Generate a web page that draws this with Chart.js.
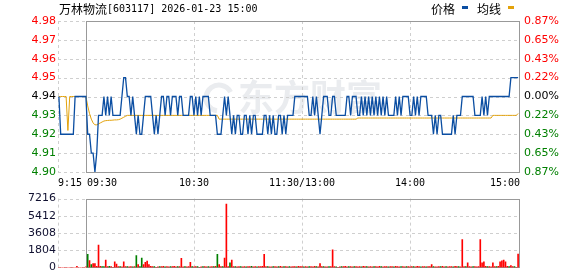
<!DOCTYPE html>
<html>
<head>
<meta charset="utf-8">
<script src="https://cdn.jsdelivr.net/npm/chart.js@4.4.0/dist/chart.umd.min.js"></script>
<style>
  html, body { margin: 0; padding: 0; background: #fff; width: 578px; height: 276px; overflow: hidden; }
  canvas { position: absolute; left: 0; }
  #price { top: 0; }
  #vol { top: 190px; }
</style>
</head>
<body>
<canvas id="price" width="578" height="190"></canvas>
<canvas id="vol" width="578" height="86"></canvas>
<script>
const stockName = '万林物流';
const titleRest = '[603117] 2026-01-23 15:00';
const seriesNames = ['价格', '均线'];
const preClose = 4.94;

const timeLabels = ['9:15', '09:30', '10:30', '11:30/13:00', '14:00', '15:00'];
const timeTickIdx = [-15, 0, 60, 120, 180, 240];
const priceTicks = [4.90, 4.91, 4.92, 4.93, 4.94, 4.95, 4.96, 4.97, 4.98];
const pctLabels = ['0.87%', '0.65%', '0.43%', '0.22%', '0.00%', '0.22%', '0.43%', '0.65%', '0.87%'];
const volTicks = [0, 1804, 3608, 5412, 7216];

// 9:15 - 9:29 call auction
const auctionPrice = [4.94, 4.92, 4.92, 4.92, 4.92, 4.92, 4.92, 4.92, 4.92, 4.94, 4.94, 4.94, 4.94, 4.94, 4.94];
const auctionAvg = [4.94, 4.94, 4.94, 4.94, 4.94, 4.922, 4.94, 4.94, 4.94, 4.94, 4.94, 4.94, 4.94, 4.94, 4.94];
const auctionVol = [0, 0, 0, 0, 0, 0, 0, 0, 0, 0, 100, 0, 0, 0, 0];

// 9:30 - 15:00, one value per minute (11:30 and 13:00 share a slot)
const price = [
  4.94,4.92,4.92,4.91,4.91,4.90,4.91,4.93,4.93,4.93,
  4.94,4.93,4.94,4.93,4.94,4.93,4.93,4.93,4.93,4.93,
  4.94,4.95,4.95,4.94,4.94,4.93,4.94,4.93,4.92,4.93,
  4.92,4.92,4.93,4.94,4.94,4.94,4.94,4.93,4.92,4.93,
  4.92,4.93,4.94,4.94,4.93,4.94,4.94,4.93,4.94,4.94,
  4.94,4.93,4.94,4.94,4.93,4.93,4.93,4.93,4.94,4.94,
  4.93,4.94,4.93,4.94,4.93,4.94,4.94,4.94,4.94,4.93,
  4.93,4.93,4.93,4.92,4.92,4.92,4.93,4.94,4.93,4.94,
  4.93,4.92,4.93,4.92,4.93,4.93,4.92,4.92,4.93,4.93,
  4.92,4.93,4.92,4.93,4.93,4.92,4.92,4.92,4.92,4.93,
  4.93,4.92,4.93,4.92,4.93,4.92,4.92,4.93,4.93,4.92,
  4.93,4.92,4.93,4.93,4.93,4.93,4.94,4.94,4.94,4.94,
  4.94,4.94,4.94,4.94,4.93,4.93,4.94,4.93,4.94,4.93,
  4.92,4.93,4.94,4.94,4.94,4.93,4.93,4.94,4.94,4.93,
  4.93,4.93,4.93,4.93,4.93,4.94,4.94,4.93,4.94,4.94,
  4.94,4.93,4.93,4.94,4.93,4.94,4.93,4.94,4.93,4.94,
  4.93,4.94,4.93,4.94,4.93,4.94,4.93,4.94,4.93,4.93,
  4.93,4.93,4.94,4.93,4.94,4.93,4.94,4.94,4.94,4.94,
  4.93,4.93,4.94,4.93,4.94,4.93,4.94,4.94,4.94,4.94,
  4.93,4.93,4.93,4.92,4.93,4.92,4.93,4.93,4.92,4.92,
  4.92,4.92,4.92,4.92,4.93,4.92,4.93,4.93,4.93,4.94,
  4.94,4.94,4.94,4.94,4.94,4.94,4.93,4.93,4.93,4.93,
  4.94,4.93,4.94,4.93,4.94,4.94,4.94,4.94,4.94,4.94,
  4.94,4.94,4.94,4.94,4.94,4.94,4.95,4.95,4.95,4.95,
  4.95
];

const avgPrice = [
  4.940,4.935,4.931,4.928,4.926,4.925,4.925,4.9255,4.926,4.9265,
  4.927,4.9272,4.9273,4.9274,4.9274,4.9275,4.9276,4.9276,4.9277,4.928,
  4.9285,4.929,4.9295,4.930,4.930,4.930,4.930,4.930,4.930,4.930,
  4.930,4.930,4.930,4.930,4.930,4.930,4.930,4.930,4.930,4.930,
  4.930,4.930,4.930,4.930,4.930,4.930,4.930,4.930,4.930,4.930,
  4.930,4.930,4.930,4.930,4.930,4.930,4.930,4.930,4.930,4.930,
  4.930,4.930,4.930,4.930,4.930,4.930,4.930,4.930,4.930,4.930,
  4.930,4.930,4.930,4.930,4.928,4.928,4.928,4.928,4.928,4.928,
  4.928,4.928,4.928,4.928,4.928,4.928,4.928,4.928,4.928,4.928,
  4.928,4.928,4.928,4.928,4.928,4.928,4.928,4.928,4.928,4.928,
  4.928,4.928,4.928,4.928,4.928,4.928,4.928,4.928,4.928,4.928,
  4.928,4.928,4.928,4.928,4.928,4.928,4.928,4.928,4.928,4.928,
  4.928,4.928,4.928,4.928,4.928,4.928,4.928,4.928,4.928,4.928,
  4.928,4.928,4.928,4.928,4.928,4.928,4.928,4.928,4.928,4.928,
  4.928,4.928,4.928,4.928,4.928,4.928,4.928,4.928,4.928,4.928,
  4.928,4.9286,4.9286,4.9286,4.9286,4.9286,4.9286,4.9286,4.9286,4.9286,
  4.9286,4.9286,4.9286,4.9286,4.9286,4.9286,4.9286,4.9286,4.9286,4.9286,
  4.9286,4.9286,4.9286,4.9286,4.9286,4.9286,4.9286,4.9286,4.9286,4.9286,
  4.9286,4.9286,4.9286,4.9286,4.9286,4.9286,4.9286,4.9286,4.9286,4.9286,
  4.9286,4.9286,4.9286,4.9286,4.9286,4.9286,4.9286,4.9286,4.9286,4.9286,
  4.9286,4.9286,4.9286,4.9286,4.9286,4.9286,4.9286,4.9286,4.9286,4.9286,
  4.9286,4.9286,4.9286,4.9286,4.9286,4.9286,4.9286,4.9286,4.9286,4.9286,
  4.9286,4.9286,4.9286,4.9286,4.9286,4.9286,4.930,4.930,4.930,4.930,
  4.930,4.930,4.930,4.930,4.930,4.930,4.930,4.930,4.930,4.930,
  4.931
];

const volume = [
  60,1365,715,290,390,390,120,2340,100,90,
  80,780,90,100,80,0,585,360,90,80,
  70,585,80,90,70,80,60,90,1235,290,
  90,975,290,520,650,290,100,80,90,0,
  70,80,90,100,60,80,70,90,80,100,
  60,80,90,940,70,80,60,90,520,80,
  70,90,80,0,60,80,90,70,80,60,
  90,80,100,1365,300,80,90,975,6630,90,
  490,780,80,90,70,80,90,60,80,70,
  90,80,100,70,80,60,90,80,100,1365,
  80,90,70,60,80,90,70,80,100,60,
  80,90,70,80,60,90,80,70,100,80,
  90,60,80,70,90,80,60,100,80,70,
  390,80,90,70,60,80,90,1850,80,60,
  0,70,90,80,100,60,80,90,70,80,
  90,60,80,70,100,80,90,60,80,70,
  80,90,60,100,80,70,90,80,60,90,
  80,70,100,80,60,90,80,70,90,80,
  60,80,90,70,100,80,60,90,80,70,
  80,90,290,80,70,60,90,80,100,70,
  80,60,90,80,70,100,80,90,60,2925,
  80,90,490,80,70,90,80,60,90,2925,
  490,585,100,80,90,70,490,80,90,100,
  585,680,780,585,100,80,200,90,80,0,
  1400
];

// 1 = up minute (red), 0 = down minute (green)
const volUp = [
  1,0,1,0,1,1,1,1,1,0,
  0,1,1,0,1,1,1,1,1,0,
  1,1,1,0,1,1,0,1,0,1,
  0,0,1,1,1,1,1,1,0,1,
  1,0,1,1,0,1,1,0,1,1,
  1,0,1,1,1,0,1,1,1,0,
  1,1,0,1,1,0,1,1,0,1,
  1,0,1,0,1,1,0,1,1,1,
  0,1,1,0,1,1,0,1,1,0,
  1,1,0,1,1,0,1,1,1,1,
  1,0,1,1,0,1,1,0,1,1,
  0,1,1,0,1,1,1,0,1,1,
  1,0,1,1,0,1,1,1,0,1,
  1,1,0,1,1,0,1,1,1,0,
  1,1,0,1,1,1,0,1,1,0,
  1,1,1,0,1,1,0,1,1,1,
  0,1,1,1,0,1,1,1,0,1,
  1,0,1,1,1,0,1,1,0,1,
  1,1,0,1,1,1,0,1,1,0,
  1,1,1,0,1,1,1,0,1,1,
  0,1,1,1,0,1,1,0,1,1,
  1,0,1,1,1,0,1,1,1,1,
  1,1,1,0,1,1,1,1,0,1,
  1,1,1,1,1,0,1,1,0,1,
  1
];

const BLUE = '#0b4ea2';
const GOLD = '#e3a20b';
const RED = '#ff0000';
const GREEN = '#008000';

const toPts = (pre, main) => pre.map((v, i) => ({ x: i - pre.length, y: v }))
  .concat(main.map((v, i) => ({ x: i, y: v })));

const priceColor = v => v > preClose + 1e-6 ? RED : (v < preClose - 1e-6 ? GREEN : '#000');

function framePlugin(vlines, watermark) {
  return {
    id: 'frame',
    beforeDatasetsDraw(chart) {
      const { ctx, chartArea: a, scales: { x, y } } = chart;
      ctx.save();
      if (watermark) {
        ctx.fillStyle = '#eaecef';
        ctx.strokeStyle = '#eaecef';
        ctx.font = 'bold 36px "Noto Sans CJK SC"';
        ctx.textBaseline = 'middle';
        ctx.fillText('东方财富', 238, 97);
        ctx.lineWidth = 5;
        ctx.beginPath();
        ctx.arc(219, 98, 13, 0.55 * Math.PI, 1.85 * Math.PI);
        ctx.stroke();
      }
      ctx.strokeStyle = '#cfcfcf';
      ctx.lineWidth = 1;
      ctx.setLineDash([3, 3]);
      ctx.beginPath();
      y.ticks.forEach(t => {
        const py = Math.round(y.getPixelForValue(t.value)) + 0.5;
        ctx.moveTo(a.left, py);
        ctx.lineTo(a.right, py);
      });
      vlines.forEach(v => {
        const px = Math.round(x.getPixelForValue(v)) + 0.5;
        ctx.moveTo(px, a.top);
        ctx.lineTo(px, a.bottom);
      });
      ctx.stroke();
      ctx.setLineDash([]);
      ctx.strokeStyle = '#999';
      const l = Math.round(x.getPixelForValue(0)) + 0.5;
      const t = Math.round(a.top) + 0.5;
      const r = Math.round(a.right) + 0.5;
      const b = Math.round(a.bottom) + 0.5;
      ctx.strokeRect(l, t, r - l, b - t);
      ctx.restore();
    }
  };
}

const labelsPlugin = {
  id: 'labels',
  afterDraw(chart) {
    const { ctx, chartArea: a, scales: { x } } = chart;
    ctx.save();
    ctx.textBaseline = 'middle';
    ctx.fillStyle = '#000';
    // title
    ctx.font = '12px "Noto Sans CJK SC"';
    ctx.textAlign = 'left';
    ctx.fillText(stockName, 59, 9.5);
    const w = ctx.measureText(stockName).width;
    ctx.font = '10px "DejaVu Sans Mono"';
    ctx.fillText(titleRest, 59 + w, 9.5);
    // legend
    const legendX = [431, 477];
    chart.data.datasets.forEach((ds, i) => {
      ctx.font = '12px "Noto Sans CJK SC"';
      ctx.fillStyle = '#000';
      ctx.textAlign = 'left';
      ctx.fillText(seriesNames[i], legendX[i], 9.5);
      ctx.fillStyle = ds.borderColor;
      ctx.fillRect(legendX[i] + 31, 6, 6, 3);
    });
    // time axis
    ctx.fillStyle = '#000';
    ctx.font = '10px "DejaVu Sans Mono"';
    timeLabels.forEach((lab, i) => {
      let px = x.getPixelForValue(timeTickIdx[i]);
      if (i === 0) { ctx.textAlign = 'left'; px = a.left; }
      else if (i === 1) { ctx.textAlign = 'left'; px += 1; }
      else if (i === timeLabels.length - 1) { ctx.textAlign = 'right'; px = a.right + 1; }
      else ctx.textAlign = 'center';
      ctx.fillText(lab, px, 183);
    });
    ctx.restore();
  }
};

const axisFont = { family: 'DejaVu Sans', size: 11 };

new Chart(document.getElementById('price'), {
  type: 'line',
  data: {
    datasets: [
      { label: seriesNames[0], data: toPts(auctionPrice, price), borderColor: BLUE, borderWidth: 1.3, pointRadius: 0, tension: 0 },
      { label: seriesNames[1], data: toPts(auctionAvg, avgPrice), borderColor: GOLD, borderWidth: 1, pointRadius: 0, tension: 0 }
    ]
  },
  options: {
    responsive: false,
    animation: false,
    devicePixelRatio: 1,
    layout: { padding: { top: 21, bottom: 18, left: 0, right: 0 }, autoPadding: false },
    plugins: { legend: { display: false }, tooltip: { enabled: false } },
    scales: {
      x: { type: 'linear', display: false, min: -15.5, max: 240.5 },
      y: {
        position: 'left', min: 4.90, max: 4.98,
        grid: { display: false, drawTicks: false }, border: { display: false },
        afterFit: s => { s.width = 58; },
        afterBuildTicks: s => { s.ticks = priceTicks.map(v => ({ value: v })); },
        ticks: { padding: 2, font: axisFont, color: c => priceColor(c.tick.value), callback: v => Number(v).toFixed(2) }
      },
      y2: {
        position: 'right', min: 4.90, max: 4.98,
        grid: { display: false, drawTicks: false }, border: { display: false },
        afterFit: s => { s.width = 59; },
        afterBuildTicks: s => { s.ticks = priceTicks.map(v => ({ value: v })); },
        ticks: { padding: 5, font: axisFont, color: c => priceColor(c.tick.value), callback: (v, i) => pctLabels[i] }
      }
    }
  },
  plugins: [framePlugin([-15.5, 60, 120, 180], true), labelsPlugin]
});

const volColors = auctionVol.map(() => RED).concat(volUp.map(u => u ? RED : GREEN));

new Chart(document.getElementById('vol'), {
  type: 'bar',
  data: {
    datasets: [{ data: toPts(auctionVol, volume), backgroundColor: volColors, barThickness: 1, grouped: false }]
  },
  options: {
    responsive: false,
    animation: false,
    devicePixelRatio: 1,
    layout: { padding: { top: 6, bottom: 6, left: 0, right: 59 }, autoPadding: false },
    plugins: { legend: { display: false }, tooltip: { enabled: false } },
    scales: {
      x: { type: 'linear', display: false, offset: false, min: -15.5, max: 240.5 },
      y: {
        min: 0, max: 7216,
        grid: { display: false, drawTicks: false }, border: { display: false },
        afterFit: s => { s.width = 58; },
        afterBuildTicks: s => { s.ticks = volTicks.map(v => ({ value: v })); },
        ticks: { padding: 2, font: axisFont, color: '#101030', callback: v => String(v) }
      }
    }
  },
  plugins: [framePlugin([-15.5, 60, 120, 180], false)]
});
</script>
</body>
</html>
